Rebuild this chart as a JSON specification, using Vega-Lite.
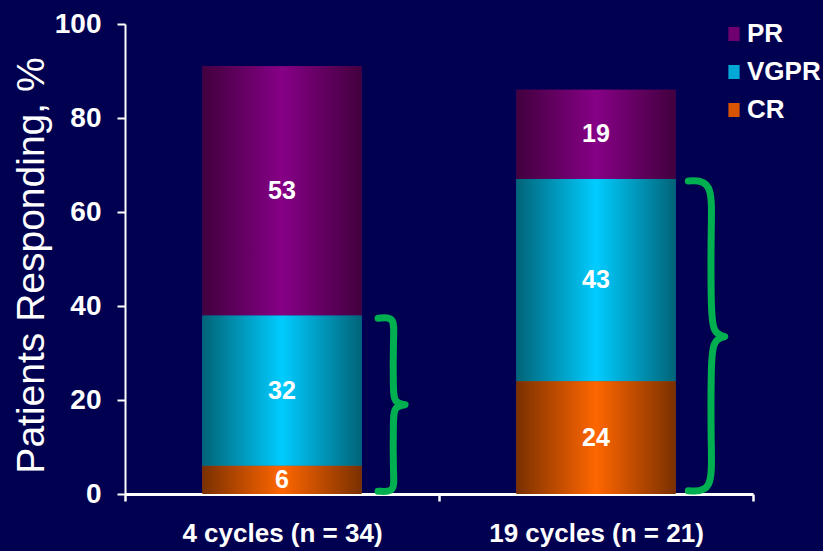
{
  "$schema": "https://vega.github.io/schema/vega-lite/v6.json",
  "autosize": {"type": "none"},
  "padding": {"left": 125, "top": 24, "right": 70, "bottom": 57},
  "width": 628,
  "height": 470,
  "background": "#010050",
  "config": {
    "view": {"stroke": null},
    "font": "Liberation Sans"
  },
  "datasets": {
    "responses": [
      {"cycles": "4 cycles (n = 34)", "response": "CR", "rank": 1, "pct": 6},
      {"cycles": "4 cycles (n = 34)", "response": "VGPR", "rank": 2, "pct": 32},
      {"cycles": "4 cycles (n = 34)", "response": "PR", "rank": 3, "pct": 53},
      {"cycles": "19 cycles (n = 21)", "response": "CR", "rank": 1, "pct": 24},
      {"cycles": "19 cycles (n = 21)", "response": "VGPR", "rank": 2, "pct": 43},
      {"cycles": "19 cycles (n = 21)", "response": "PR", "rank": 3, "pct": 19}
    ],
    "braces": [
      {"brace": "a", "seq": 1, "u": 0.403, "pct": 37.4},
      {"brace": "a", "seq": 2, "u": 0.403, "pct": 37.4},
      {"brace": "a", "seq": 3, "u": 0.403, "pct": 37.4},
      {"brace": "a", "seq": 4, "u": 0.430, "pct": 37.8},
      {"brace": "a", "seq": 5, "u": 0.427, "pct": 33},
      {"brace": "a", "seq": 6, "u": 0.427, "pct": 22},
      {"brace": "a", "seq": 7, "u": 0.429, "pct": 19.4},
      {"brace": "a", "seq": 8, "u": 0.446, "pct": 19},
      {"brace": "a", "seq": 9, "u": 0.446, "pct": 19},
      {"brace": "a", "seq": 10, "u": 0.446, "pct": 19},
      {"brace": "a", "seq": 11, "u": 0.429, "pct": 18.6},
      {"brace": "a", "seq": 12, "u": 0.427, "pct": 16},
      {"brace": "a", "seq": 13, "u": 0.427, "pct": 4},
      {"brace": "a", "seq": 14, "u": 0.430, "pct": 0.4},
      {"brace": "a", "seq": 15, "u": 0.403, "pct": 0.6},
      {"brace": "a", "seq": 16, "u": 0.403, "pct": 0.6},
      {"brace": "a", "seq": 17, "u": 0.403, "pct": 0.6},
      {"brace": "b", "seq": 1, "u": 0.897, "pct": 66.6},
      {"brace": "b", "seq": 2, "u": 0.897, "pct": 66.6},
      {"brace": "b", "seq": 3, "u": 0.897, "pct": 66.6},
      {"brace": "b", "seq": 4, "u": 0.936, "pct": 66.8},
      {"brace": "b", "seq": 5, "u": 0.933, "pct": 57},
      {"brace": "b", "seq": 6, "u": 0.933, "pct": 40},
      {"brace": "b", "seq": 7, "u": 0.936, "pct": 34.2},
      {"brace": "b", "seq": 8, "u": 0.955, "pct": 33.5},
      {"brace": "b", "seq": 9, "u": 0.955, "pct": 33.5},
      {"brace": "b", "seq": 10, "u": 0.955, "pct": 33.5},
      {"brace": "b", "seq": 11, "u": 0.936, "pct": 32.8},
      {"brace": "b", "seq": 12, "u": 0.933, "pct": 27},
      {"brace": "b", "seq": 13, "u": 0.933, "pct": 10},
      {"brace": "b", "seq": 14, "u": 0.936, "pct": 0.4},
      {"brace": "b", "seq": 15, "u": 0.897, "pct": 0.7},
      {"brace": "b", "seq": 16, "u": 0.897, "pct": 0.7},
      {"brace": "b", "seq": 17, "u": 0.897, "pct": 0.7}
    ]
  },
  "layer": [
    {
      "data": {"name": "responses"},
      "transform": [
        {"stack": "pct", "groupby": ["cycles"], "sort": [{"field": "rank"}], "as": ["lo", "hi"]},
        {"calculate": "(datum.lo + datum.hi) / 2", "as": "mid"}
      ],
      "encoding": {
        "x": {
          "field": "cycles", "type": "nominal", "sort": null,
          "scale": {"paddingInner": 0, "paddingOuter": 0},
          "axis": {
            "title": null, "labelAngle": 0, "labelColor": "white", "labelLimit": 0,
            "labelFontSize": 26, "labelFontWeight": "bold", "labelPadding": 19,
            "domainColor": "white", "domainWidth": 3,
            "tickColor": "white", "tickWidth": 2.5, "tickSize": 7, "tickBand": "extent"
          }
        },
        "y": {
          "field": "lo", "type": "quantitative",
          "scale": {"domain": [0, 100], "nice": false},
          "axis": {
            "values": [0, 20, 40, 60, 80, 100], "grid": false,
            "labelColor": "white", "labelFontSize": 28, "labelFontWeight": "bold", "labelPadding": 16,
            "domainColor": "white", "domainWidth": 2,
            "tickColor": "white", "tickWidth": 2, "tickSize": 8,
            "title": "Patients Responding, %", "titleColor": "white",
            "titleFontSize": 39, "titleFontWeight": "normal",
            "titleAngle": -90, "titleAlign": "center", "titleBaseline": "alphabetic",
            "titleX": -82, "titleY": 241
          }
        },
        "y2": {"field": "hi"}
      },
      "layer": [
        {
          "mark": {"type": "bar", "size": 159},
          "encoding": {
            "color": {
              "field": "response", "type": "nominal",
              "scale": {"domain": ["PR", "VGPR", "CR"], "range": ["#700070", "#00a8d8", "#d85400"]},
              "legend": {
                "title": null, "orient": "none", "legendX": 596, "legendY": -3,
                "symbolType": "M-0.8,-1L0.8,-1L0.8,1L-0.8,1Z", "symbolSize": 196,
                "symbolStrokeWidth": 0, "symbolOpacity": 1,
                "labelColor": "white", "labelFontSize": 26, "labelFontWeight": "bold",
                "labelOffset": 0, "rowPadding": 12,
                "encode": {
                  "symbols": {
                    "update": {
                      "fill": {"signal": "{gradient: 'linear', x1: 0, y1: 0, x2: 1, y2: 0, stops: datum.value === 'PR' ? [{offset: 0, color: '#42003e'}, {offset: 0.5, color: '#860086'}, {offset: 1, color: '#42003e'}] : datum.value === 'VGPR' ? [{offset: 0, color: '#006478'}, {offset: 0.5, color: '#00ccff'}, {offset: 1, color: '#006478'}] : [{offset: 0, color: '#7a3000'}, {offset: 0.5, color: '#ff6600'}, {offset: 1, color: '#7a3000'}]}"}
                    }
                  }
                }
              }
            }
          }
        },
        {
          "transform": [{"filter": "datum.response === 'PR'"}],
          "mark": {"type": "bar", "size": 159, "color": {"gradient": "linear", "x1": 0, "y1": 0, "x2": 1, "y2": 0,
            "stops": [{"offset": 0, "color": "#42003e"}, {"offset": 0.5, "color": "#860086"}, {"offset": 1, "color": "#42003e"}]}}
        },
        {
          "transform": [{"filter": "datum.response === 'VGPR'"}],
          "mark": {"type": "bar", "size": 159, "color": {"gradient": "linear", "x1": 0, "y1": 0, "x2": 1, "y2": 0,
            "stops": [{"offset": 0, "color": "#006478"}, {"offset": 0.5, "color": "#00ccff"}, {"offset": 1, "color": "#006478"}]}}
        },
        {
          "transform": [{"filter": "datum.response === 'CR'"}],
          "mark": {"type": "bar", "size": 159, "color": {"gradient": "linear", "x1": 0, "y1": 0, "x2": 1, "y2": 0,
            "stops": [{"offset": 0, "color": "#7a3000"}, {"offset": 0.5, "color": "#ff6600"}, {"offset": 1, "color": "#7a3000"}]}}
        },
        {
          "mark": {"type": "text", "color": "white", "fontSize": 25, "fontWeight": "bold", "baseline": "middle"},
          "encoding": {
            "y": {"field": "mid", "type": "quantitative"},
            "y2": null,
            "text": {"field": "pct", "type": "quantitative"}
          }
        }
      ]
    },
    {
      "data": {"name": "braces"},
      "mark": {"type": "line", "interpolate": "basis", "color": "#00b050", "strokeWidth": 7, "strokeCap": "round", "strokeJoin": "round"},
      "encoding": {
        "x": {"field": "u", "type": "quantitative", "scale": {"domain": [0, 1], "nice": false, "zero": false}, "axis": null},
        "y": {"field": "pct", "type": "quantitative"},
        "detail": {"field": "brace"},
        "order": {"field": "seq", "type": "quantitative"}
      }
    }
  ],
  "resolve": {"scale": {"x": "independent"}}
}
